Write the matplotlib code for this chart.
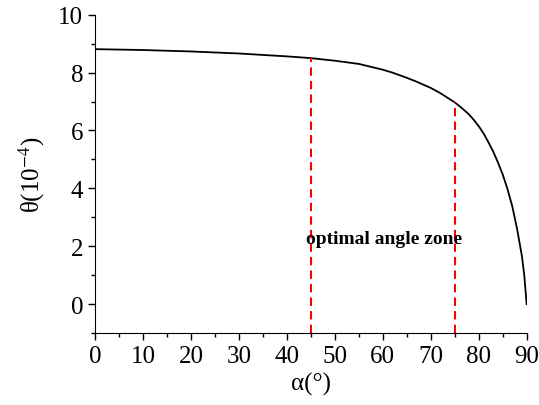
import numpy as np
import matplotlib
matplotlib.use("Agg")
import matplotlib.pyplot as plt
from matplotlib.ticker import MultipleLocator

# values
alpha = [0, 10, 20, 30, 40, 45, 50, 55, 60, 62, 65, 67, 70, 72, 75, 76, 77, 78, 79, 80,
         81, 82, 83, 84, 85, 86, 87, 88, 89, 89.5, 90]
theta = [8.81, 8.78, 8.73, 8.66, 8.56, 8.50, 8.41, 8.30, 8.10, 8.00, 7.82, 7.69, 7.47,
         7.29, 6.97, 6.84, 6.70, 6.55, 6.36, 6.15, 5.90, 5.60, 5.28, 4.90, 4.48, 3.98,
         3.38, 2.60, 1.67, 1.00, 0.0]
zone = [45, 75]
zone_top = [8.50, 6.97]

plt.rcParams['font.family'] = ['Liberation Serif', 'DejaVu Serif']
plt.rcParams['mathtext.fontset'] = 'stix'

fig = plt.figure(figsize=(5.39, 4.06), dpi=100)
ax = fig.add_axes([0.1763, 0.1773, 0.8008, 0.784])

ax.plot(alpha, theta, color='black', lw=1.3)
for a, t in zip(zone, zone_top):
    ax.plot([a, a], [-1, t], color='red', lw=1.5, ls=(0, (4, 2.5)))

ax.text(60.2, 2.28, "optimal angle zone", fontsize=14, fontweight='bold',
        ha='center', va='center')

ax.set_xlim(0, 90)
ax.set_ylim(-1, 10)
ax.xaxis.set_major_locator(MultipleLocator(10))
ax.xaxis.set_minor_locator(MultipleLocator(5))
ax.yaxis.set_major_locator(MultipleLocator(2))
ax.yaxis.set_minor_locator(MultipleLocator(1))
ax.spines['top'].set_visible(False)
ax.spines['right'].set_visible(False)
ax.tick_params(which='major', direction='out', length=5, width=1, labelsize=18)
ax.tick_params(which='minor', direction='out', length=3, width=1)
ax.set_xlabel("α(°)", fontsize=18, labelpad=4)
ax.set_ylabel(r"θ(10$^{-4}$)", fontsize=18, labelpad=8)

fig.savefig("out.png", dpi=100)
